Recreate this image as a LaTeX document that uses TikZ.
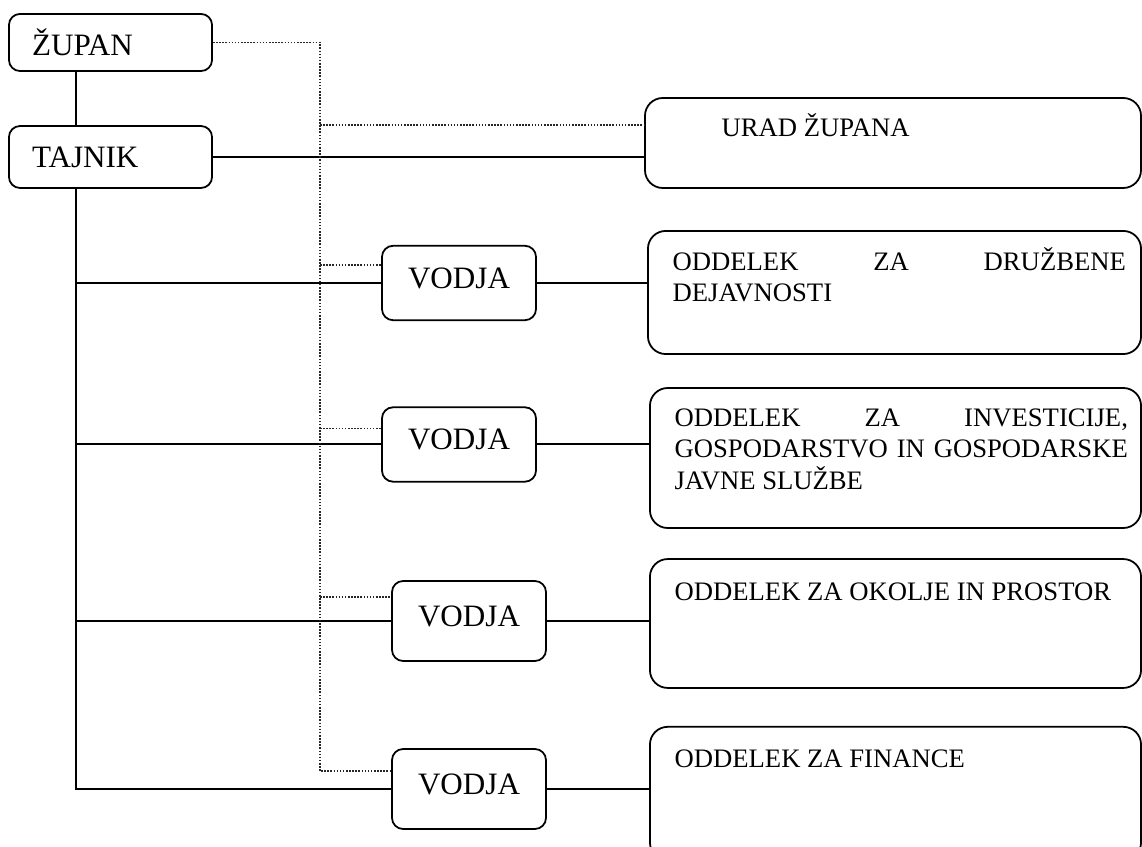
\documentclass[tikz,border=0pt]{standalone}
\usepackage{fontspec}
\setmainfont{Liberation Serif}
\hyphenpenalty=10000
\exhyphenpenalty=10000

\tikzset{
	box/.style={draw, line width=0.8pt, rounded corners=5pt, inner sep=0pt},
	chief/.style={box, font=\fontsize{14}{16}\selectfont, inner xsep=10.4pt, text width=70.6pt, align=left, minimum height=25.7pt},
	lead/.style={box, font=\fontsize{14}{16}\selectfont, minimum width=69.3pt, minimum height=33.5pt, text depth=4.5pt},
	dept/.style={draw, line width=0.8pt, rounded corners=8pt, inner sep=0pt},
	depttext/.style={anchor=base west, inner sep=0pt, text width=204pt, align=justify, font=\fontsize{12}{14.2}\selectfont},
	link/.style={line width=0.9pt},
	staff/.style={line width=0.7pt, dash pattern=on 0.7pt off 0.7pt, black!85}
}

\begin{document}
\begin{tikzpicture}[x=0.45pt,y=-0.45pt]
	\clip (0,0) rectangle (1142,847);
	\node[chief] (zupan) at (110.5,42.5) {ŽUPAN};
	\node[chief, minimum height=27.9pt] (tajnik) at (110.5,157) {TAJNIK};
	\node[dept, minimum width=223.2pt, minimum height=40.5pt] (urad) at (893,143) {};
	\node[lead] (vodja1) at (459,283) {VODJA};
	\node[lead] (vodja2) at (459,444.5) {VODJA};
	\node[lead, minimum height=36pt] (vodja3) at (469,621) {VODJA};
	\node[lead, minimum height=36pt] (vodja4) at (469,789) {VODJA};
	\node[dept, minimum width=221.9pt, minimum height=55.4pt] (odd1) at (894.5,292.5) {};
	\node[dept, minimum width=221pt, minimum height=63pt] (odd2) at (895.5,458) {};
	\node[dept, minimum width=221pt, minimum height=58pt] (odd3) at (895.5,623.5) {};
	\node[dept, minimum width=221pt, minimum height=60pt] (odd4) at (895.5,793.5) {};
	\node[depttext] (uradtxt) at ([xshift=34.7pt,yshift=-17.6pt]urad.north west) {URAD ŽUPANA};
	\node[depttext] (odd1txt) at ([xshift=11.3pt,yshift=-18pt]odd1.north west) {ODDELEK ZA DRUŽBENE\linebreak DEJAVNOSTI};
	\node[depttext] (odd2txt) at ([xshift=11.3pt,yshift=-17.6pt]odd2.north west) {ODDELEK ZA INVESTICIJE,\linebreak GOSPODARSTVO IN GOSPODARSKE\linebreak JAVNE SLUŽBE};
	\node[depttext] (odd3txt) at ([xshift=11.3pt,yshift=-18.9pt]odd3.north west) {ODDELEK ZA OKOLJE IN PROSTOR};
	\node[depttext] (odd4txt) at ([xshift=11.3pt,yshift=-18.5pt]odd4.north west) {ODDELEK ZA FINANCE};
	\coordinate (trunk) at (76,0);
	\coordinate (spine) at (320,0);
	\draw[link] (zupan.south -| trunk) -- (tajnik.north -| trunk);
	\draw[link] (tajnik.east) -- (tajnik.east -| urad.west);
	\draw[link] (tajnik.south -| trunk) |- (vodja4.west);
	\foreach \n in {1,2,3}
		\draw[link] (vodja\n.west -| trunk) -- (vodja\n.west);
	\foreach \n in {1,...,4}
		\draw[link] (vodja\n.east) -- (vodja\n.east -| odd\n.west);
	\foreach \n/\d in {urad/12.6, vodja1/9, vodja2/9.9, vodja3/7.7, vodja4/10.4}
		\coordinate (s\n) at ([yshift=-\d pt]\n.north west);
	\draw[staff] (zupan.east) -| (svodja4 -| spine) -- (svodja4);
	\foreach \n in {urad,vodja1,vodja2,vodja3}
		\draw[staff] (s\n -| spine) -- (s\n);
\end{tikzpicture}
\end{document}
